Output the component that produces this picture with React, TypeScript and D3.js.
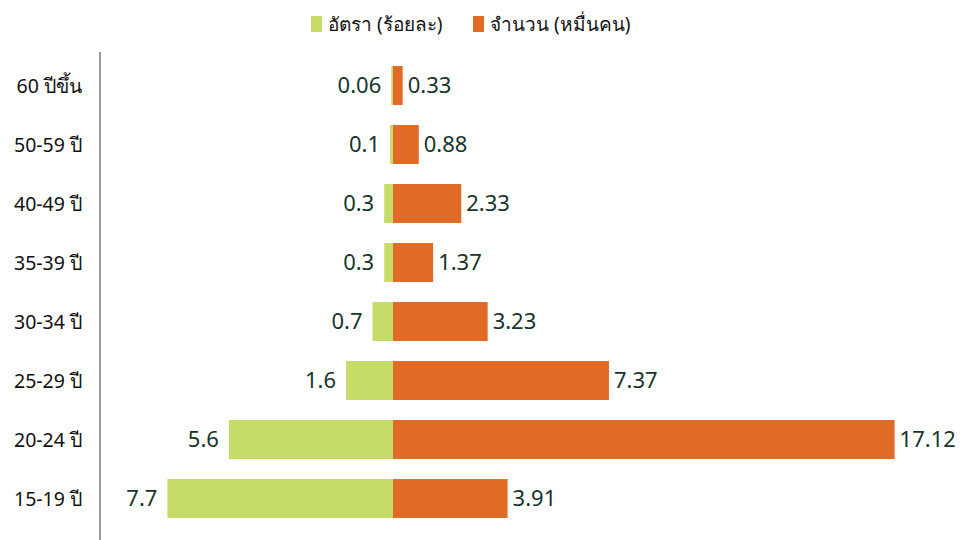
import React from "react";
import * as d3 from "d3";

const categories = ["60 ปีขึ้น", "50-59 ปี", "40-49 ปี", "35-39 ปี", "30-34 ปี", "25-29 ปี", "20-24 ปี", "15-19 ปี"];
const rateValues = [0.06, 0.1, 0.3, 0.3, 0.7, 1.6, 5.6, 7.7];
const countValues = [0.33, 0.88, 2.33, 1.37, 3.23, 7.37, 17.12, 3.91];
const rateLabels = ["0.06", "0.1", "0.3", "0.3", "0.7", "1.6", "5.6", "7.7"];
const countLabels = ["0.33", "0.88", "2.33", "1.37", "3.23", "7.37", "17.12", "3.91"];
const legendLabels = ["อัตรา (ร้อยละ)", "จำนวน (หมื่นคน)"];

const GREEN = "#c5dc68";
const ORANGE = "#e06a26";
const TEXT = "#17352a";
const FONT = "Tahoma, 'Noto Sans', 'DejaVu Sans', sans-serif";

export default function App() {
  const W = 960, H = 540;
  const zeroX = 393;
  const x = d3.scaleLinear().domain([0, 1]).range([0, 29.3]);
  const y = d3.scaleBand<string>().domain(categories).range([56, 528]).paddingInner(0.34).paddingOuter(0.17);
  const bh = y.bandwidth();

  return (
    <svg width={W} height={H} style={{ position: "absolute", left: 0, top: 0 }} fontFamily={FONT}>
      <rect width={W} height={H} fill="#fff" />
      {/* legend */}
      <rect x={311} y={16} width={11} height={16} fill={GREEN} />
      <text x={328} y={31} fontSize={19} fill="#111">{legendLabels[0]}</text>
      <rect x={473} y={16} width={11} height={16} fill={ORANGE} />
      <text x={490} y={31} fontSize={19} fill="#111">{legendLabels[1]}</text>
      {/* axis line */}
      <line x1={100} x2={100} y1={52} y2={540} stroke="#a19c98" strokeWidth={2} />
      {categories.map((c, i) => {
        const yc = (y(c) as number) + bh / 2;
        const wr = x(rateValues[i]);
        const wc = x(countValues[i]);
        return (
          <g key={c}>
            <text x={82} y={yc} dy="0.36em" textAnchor="end" fontSize={19.5} fill="#111">{c}</text>
            <rect x={zeroX - wr} y={y(c)} width={wr} height={bh} fill={GREEN} />
            <rect x={zeroX} y={y(c)} width={wc} height={bh} fill={ORANGE} />
            <text x={zeroX - wr - 10} y={yc} dy="0.36em" textAnchor="end" fontSize={22} fill={TEXT}>{rateLabels[i]}</text>
            <text x={zeroX + wc + 5} y={yc} dy="0.36em" textAnchor="start" fontSize={22} fill={TEXT}>{countLabels[i]}</text>
          </g>
        );
      })}
    </svg>
  );
}
